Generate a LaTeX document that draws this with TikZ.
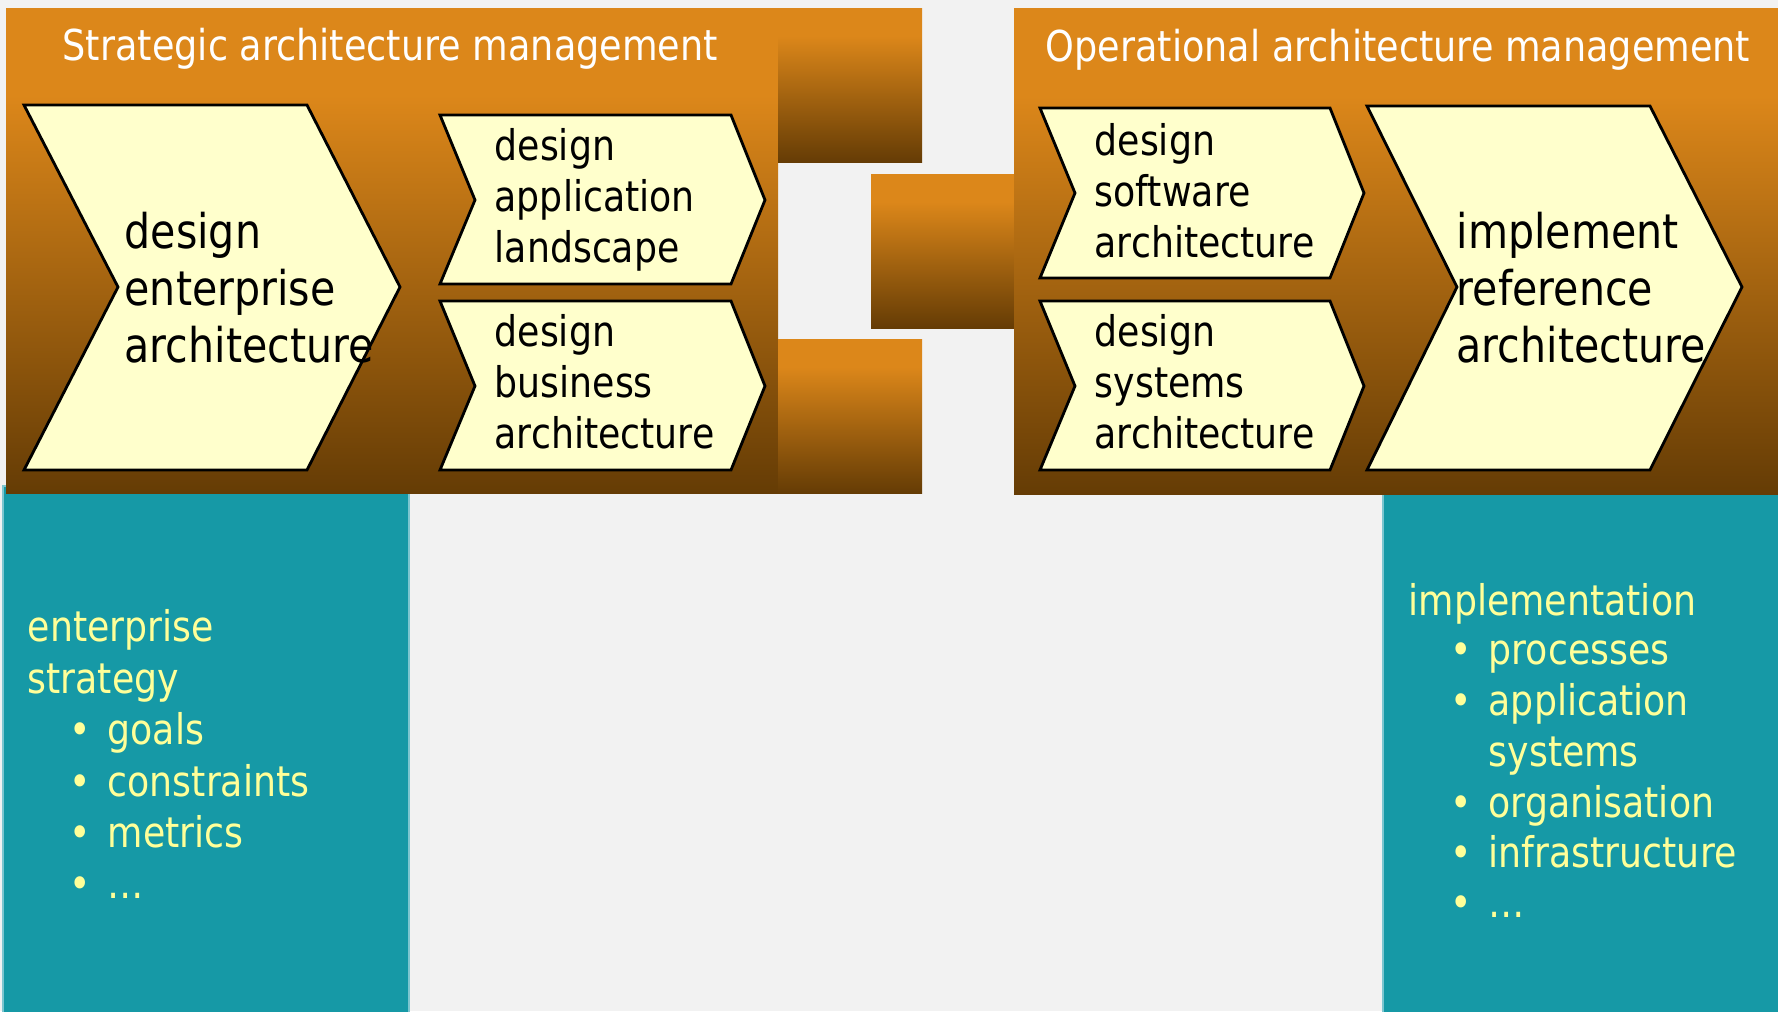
\documentclass[tikz,border=0pt]{standalone}
\usepackage{fontspec}
\setmainfont{DejaVu Sans}[FakeStretch=0.86]
\usetikzlibrary{positioning}
\definecolor{panelorange}{RGB}{220,135,26}
\definecolor{panelbrown}{RGB}{101,60,5}
\definecolor{chevfill}{RGB}{255,255,204}
\definecolor{tealbox}{RGB}{22,153,166}
\definecolor{tealedge}{RGB}{125,198,208}
\definecolor{itemyellow}{RGB}{255,255,153}
\definecolor{pagegray}{RGB}{242,242,242}
\pgfdeclareverticalshading{panelshade}{100bp}{color(0bp)=(panelbrown); color(25bp)=(panelbrown); color(66bp)=(panelorange); color(100bp)=(panelorange)}

\begin{document}
\begin{tikzpicture}[x=0.01cm, y=-0.01cm,
    panel/.style={shading=panelshade},
    listbox/.style={fill=tealbox, draw=tealedge, line width=0.6pt},
    chev/.style={fill=chevfill, draw=black, line width=0.8pt},
    title/.style={text=white, font=\fontsize{12.1}{14.5}\selectfont, anchor=base west, inner sep=0pt},
    bigtxt/.style={font=\fontsize{13.6}{16.2}\selectfont, align=left, anchor=base west, inner sep=0pt},
    smalltxt/.style={font=\fontsize{12}{14.5}\selectfont, align=left, anchor=base west, inner sep=0pt},
    listtxt/.style={text=itemyellow, font=\fontsize{12}{14.7}\selectfont, anchor=base west, inner sep=0pt}]
    % page and frame
    \fill[pagegray] (0, 0) rectangle (1778, 1011);
    \useasboundingbox (0, 0) rectangle (1778, 1011);
    % teal boxes below the panels
    \draw[listbox] (3, 486) rectangle (409, 1020);
    \draw[listbox] (1383, 486) rectangle (1790, 1020);
    % strategic panel
    \shade[panel] (6, 8) rectangle (778, 493);
    \shade[panel] (778, 8) rectangle (922, 162);
    \shade[panel] (778, 339) rectangle (922, 493);
    % link block
    \shade[panel] (871, 174) rectangle (1014, 328);
    % operational panel
    \shade[panel] (1014, 8) rectangle (1790, 494);
    \node[title] (strat) at (62, 60) {Strategic architecture management};
    \node[title] (oper) at (1045, 61) {Operational architecture management};
    % chevrons, strategic
    \draw[chev] (24, 105) -- (307, 105) -- (400, 287) -- (307, 470) -- (24, 470) -- (118, 287) -- cycle;
    \draw[chev] (440, 115) -- (731, 115) -- (765, 200) -- (731, 284) -- (440, 284) -- (475, 200) -- cycle;
    \draw[chev] (440, 301) -- (731, 301) -- (765, 386) -- (731, 470) -- (440, 470) -- (475, 386) -- cycle;
    % chevrons, operational
    \draw[chev] (1040, 108) -- (1330, 108) -- (1364, 193) -- (1330, 278) -- (1040, 278) -- (1075, 193) -- cycle;
    \draw[chev] (1040, 301) -- (1330, 301) -- (1364, 386) -- (1330, 470) -- (1040, 470) -- (1075, 386) -- cycle;
    \draw[chev] (1367, 106) -- (1650, 106) -- (1742, 287) -- (1650, 470) -- (1367, 470) -- (1457, 287) -- cycle;
    % base anchor sits on the last line
    \node[bigtxt] (entarch) at (124, 362) {design\\enterprise\\architecture};
    \node[smalltxt] (appland) at (494, 262) {design\\application\\landscape};
    \node[smalltxt] (busarch) at (494, 448) {design\\business\\architecture};
    \node[smalltxt] (swarch) at (1094, 257) {design\\software\\architecture};
    \node[smalltxt] (sysarch) at (1094, 448) {design\\systems\\architecture};
    \node[bigtxt] (refarch) at (1456, 362) {implement\\reference\\architecture};
    % strategy list
    \node[listtxt] (enterp) at (27, 641) {enterprise};
    \node[listtxt] (strgy) at (27, 693) {strategy};
    \node[listtxt] (goals) at (107, 744) {goals};
    \node[listtxt] (constr) at (107, 796) {constraints};
    \node[listtxt] (metr) at (107, 847) {metrics};
    \node[listtxt] (moreS) at (107, 898) {…};
    \node[listtxt] (bgoals) at (69, 744) {•};
    \node[listtxt] (bconstr) at (69, 796) {•};
    \node[listtxt] (bmetr) at (69, 847) {•};
    \node[listtxt] (bmoreS) at (69, 898) {•};
    % implementation list
    \node[listtxt] (impl) at (1408, 615) {implementation};
    \node[listtxt] (proc) at (1488, 664) {processes};
    \node[listtxt] (appsys) at (1488, 715) {application};
    \node[listtxt] (appsysb) at (1488, 766) {systems};
    \node[listtxt] (orga) at (1488, 817) {organisation};
    \node[listtxt] (infra) at (1488, 867) {infrastructure};
    \node[listtxt] (moreI) at (1488, 917) {…};
    \node[listtxt] (bproc) at (1450, 664) {•};
    \node[listtxt] (bappsys) at (1450, 715) {•};
    \node[listtxt] (borga) at (1450, 817) {•};
    \node[listtxt] (binfra) at (1450, 867) {•};
    \node[listtxt] (bmoreI) at (1450, 917) {•};
\end{tikzpicture}
\end{document}
